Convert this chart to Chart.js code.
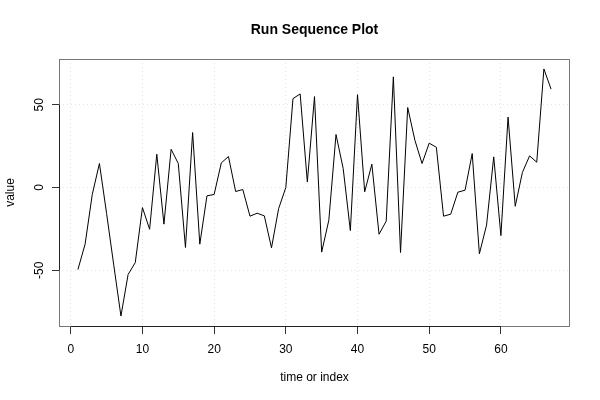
<!DOCTYPE html>
<html>
<head>
<meta charset="utf-8">
<script src="https://cdn.jsdelivr.net/npm/chart.js@4/dist/chart.umd.min.js"></script>
<style>
  html, body { margin: 0; padding: 0; background: #fff; }
  #wrap { width: 600px; height: 400px; }
</style>
</head>
<body>
<div id="wrap"><canvas id="runChart" width="600" height="400"></canvas></div>
<script>
// run sequence values (index 1..67)
const values = [
  -49.5, -34.2, -4.2, 14.5, -15.7, -46.9, -77.6, -52.5, -45.3, -12.1,
  -25.2, 20.1, -22.1, 23.1, 14.5, -36.2, 33.2, -34.2, -5.0, -4.2,
  14.9, 18.7, -2.4, -1.2, -17.3, -15.5, -17.1, -36.4, -12.7, 0.0,
  53.7, 56.5, 3.4, 54.9, -39.0, -19.7, 32.0, 11.5, -26.0, 56.1,
  -2.6, 14.1, -28.2, -20.3, 66.8, -39.2, 48.3, 28.6, 14.5, 26.8,
  24.3, -17.3, -16.1, -2.8, -1.6, 20.5, -40.0, -22.7, 18.5, -29.0,
  42.5, -11.3, 9.1, 19.1, 15.3, 71.6, 59.4
];
const xTicks = [0, 10, 20, 30, 40, 50, 60];
const yTicks = [-50, 0, 50];
const xRange = [-1.64, 69.64];
const yRange = [-83.6, 77.6];

const FONT = "'Liberation Sans', Arial, Helvetica, sans-serif";

// R style box, axis lines and vertical y tick labels
const rStyle = {
    id: "rStyle",
    afterDraw(chart) {
        const ctx = chart.ctx;
        const a = chart.chartArea;
        const xs = chart.scales.x;
        const ys = chart.scales.y;
        ctx.save();
        ctx.strokeStyle = "#777";
        ctx.lineWidth = 1;
        ctx.strokeRect(Math.round(a.left) + 0.5, Math.round(a.top) + 0.5,
            Math.round(a.right - a.left) - 1, Math.round(a.bottom - a.top));

        // axis segments from first to last tick
        ctx.strokeStyle = "#222";
        ctx.beginPath();
        const by = Math.round(a.bottom) + 0.5;
        ctx.moveTo(xs.getPixelForValue(xTicks[0]), by);
        ctx.lineTo(xs.getPixelForValue(xTicks[xTicks.length - 1]), by);
        const lx = Math.round(a.left) + 0.5;
        ctx.moveTo(lx, ys.getPixelForValue(yTicks[0]));
        ctx.lineTo(lx, ys.getPixelForValue(yTicks[yTicks.length - 1]));
        ctx.stroke();

        // rotated y tick labels
        ctx.fillStyle = "#000";
        ctx.font = "12px " + FONT;
        ctx.textAlign = "center";
        ctx.textBaseline = "middle";
        yTicks.forEach(v => {
            ctx.save();
            ctx.translate(39.5, ys.getPixelForValue(v));
            ctx.rotate(-Math.PI / 2);
            ctx.fillText(String(v), 0, 0);
            ctx.restore();
        });
        ctx.restore();
    }
};

const ctx = document.getElementById("runChart").getContext("2d");
new Chart(ctx, {
    type: "line",
    data: {
        datasets: [{
            data: values.map((v, i) => ({ x: i + 1, y: v })),
            borderColor: "#000",
            borderWidth: 1,
            pointRadius: 0,
            fill: false,
            tension: 0
        }]
    },
    options: {
        responsive: false,
        animation: false,
        layout: { padding: { left: 0, right: 30, top: 0, bottom: 0 } },
        plugins: {
            legend: { display: false },
            tooltip: { enabled: false },
            title: {
                display: true,
                text: "Run Sequence Plot",
                fullSize: false,
                color: "#000",
                font: { family: FONT, size: 14, weight: "bold" },
                padding: { top: 22, bottom: 20.2 }
            }
        },
        scales: {
            x: {
                type: "linear",
                min: xRange[0],
                max: xRange[1],
                border: { display: false, dash: [1, 3] },
                grid: {
                    color: "#e4e4e4",
                    tickColor: "#333",
                    tickBorderDash: [],
                    tickLength: 8
                },
                ticks: {
                    stepSize: 10,
                    includeBounds: false,
                    autoSkip: false,
                    maxRotation: 0,
                    padding: 8,
                    color: "#000",
                    font: { family: FONT, size: 12 }
                },
                afterBuildTicks: s => { s.ticks = xTicks.map(v => ({ value: v })); },
                title: {
                    display: true,
                    text: "time or index",
                    color: "#000",
                    font: { family: FONT, size: 12 },
                    padding: { top: 0, bottom: 14.8 }
                },
                afterFit: s => { s.height = 74; }
            },
            y: {
                type: "linear",
                min: yRange[0],
                max: yRange[1],
                border: { display: false, dash: [1, 3] },
                grid: {
                    color: "#e4e4e4",
                    tickColor: "#333",
                    tickBorderDash: [],
                    tickLength: 7
                },
                ticks: {
                    display: false,
                    stepSize: 50,
                    includeBounds: false
                },
                afterBuildTicks: s => { s.ticks = yTicks.map(v => ({ value: v })); },
                title: {
                    display: true,
                    text: "value",
                    color: "#000",
                    font: { family: FONT, size: 12 },
                    padding: { top: 3.8, bottom: 0 }
                },
                afterFit: s => { s.width = 59; }
            }
        }
    },
    plugins: [rStyle]
});
</script>
</body>
</html>
